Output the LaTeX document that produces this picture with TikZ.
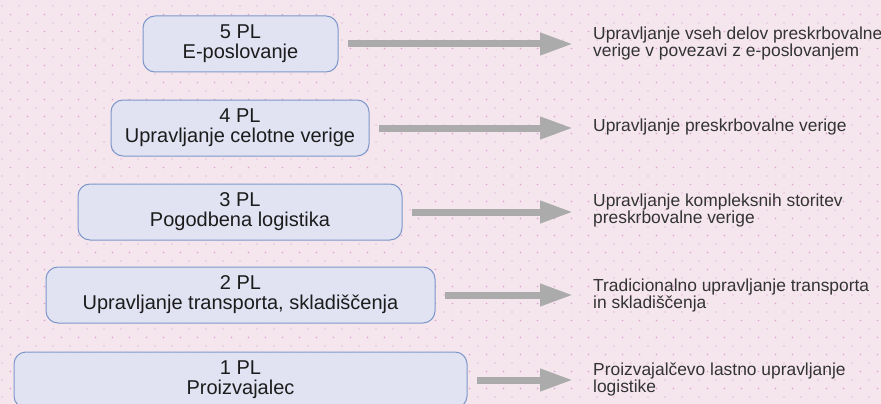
\documentclass[tikz,border=0pt]{standalone}
\usepackage{fontspec}
\setmainfont{Liberation Sans}
\usetikzlibrary{arrows.meta}
\definecolor{bgpink}{HTML}{F5E6EE}
\definecolor{dotA}{HTML}{E6BCDF}
\definecolor{dotB}{HTML}{D9A2D1}
\definecolor{boxfill}{HTML}{DEE3F5}
\definecolor{boxedge}{HTML}{7D97CA}
\definecolor{arrowgray}{HTML}{ABABAB}
\definecolor{txtdark}{HTML}{1C1C1C}
\definecolor{txtgray}{HTML}{333333}
\begin{document}
\begin{tikzpicture}[x=1pt,y=-1pt,
  lvlbox/.style={draw=boxedge, line width=1pt, fill=boxfill, fill opacity=0.85, text opacity=1,
    rounded corners=12pt, minimum height=56pt, align=center, text=txtdark,
    font=\fontsize{20}{20}\selectfont, inner sep=0pt},
  desc/.style={anchor=west, align=left, inner sep=0pt, text=txtgray,
    font=\fontsize{17.4}{17}\selectfont},
  bigarrow/.style={draw=arrowgray, line width=7pt, -{Triangle[length=33pt,width=21pt]},
    shorten <=9pt, shorten >=20pt}]
\useasboundingbox (0,0) rectangle (881,404);
\clip (0,0) rectangle (881,404);
\fill[bgpink] (0,0) rectangle (881,404);
\foreach \r in {0,...,23} {
  \foreach \c in {0,...,51} {
    \fill[dotA] (2+17*\c, 6+17*\r) circle (0.9pt);
    \fill[dotB] (10.5+17*\c, 14.5+17*\r) circle (0.9pt);
  }
}
\node[lvlbox, minimum width=195pt] (b5) at (240.5,44) {5 PL\\E-poslovanje};
\node[lvlbox, minimum width=258pt] (b4) at (240,128) {4 PL\\Upravljanje celotne verige};
\node[lvlbox, minimum width=324pt] (b3) at (240,212) {3 PL\\Pogodbena logistika};
\node[lvlbox, minimum width=389pt] (b2) at (240.5,295) {2 PL\\Upravljanje transporta, skladiščenja};
\node[lvlbox, minimum width=453pt] (b1) at (240.5,380) {1 PL\\Proizvajalec};

\node[desc] (t5) at (593,43.5) {Upravljanje vseh delov preskrbovalne\\verige v povezavi z  e-poslovanjem};
\node[desc] (t4) at (593,127) {Upravljanje preskrbovalne verige};
\node[desc] (t3) at (593,210.5) {Upravljanje kompleksnih storitev\\preskrbovalne verige};
\node[desc] (t2) at (593,295) {Tradicionalno upravljanje transporta\\in skladiščenja};
\node[desc] (t1) at (593,379) {Proizvajalčevo lastno upravljanje\\logistike};

\draw[bigarrow] (b5.east) -- (b5.east -| t5.west);
\draw[bigarrow] (b4.east) -- (b4.east -| t4.west);
\draw[bigarrow] (b3.east) -- (b3.east -| t3.west);
\draw[bigarrow] (b2.east) -- (b2.east -| t2.west);
\draw[bigarrow] (b1.east) -- (b1.east -| t1.west);
\end{tikzpicture}
\end{document}
